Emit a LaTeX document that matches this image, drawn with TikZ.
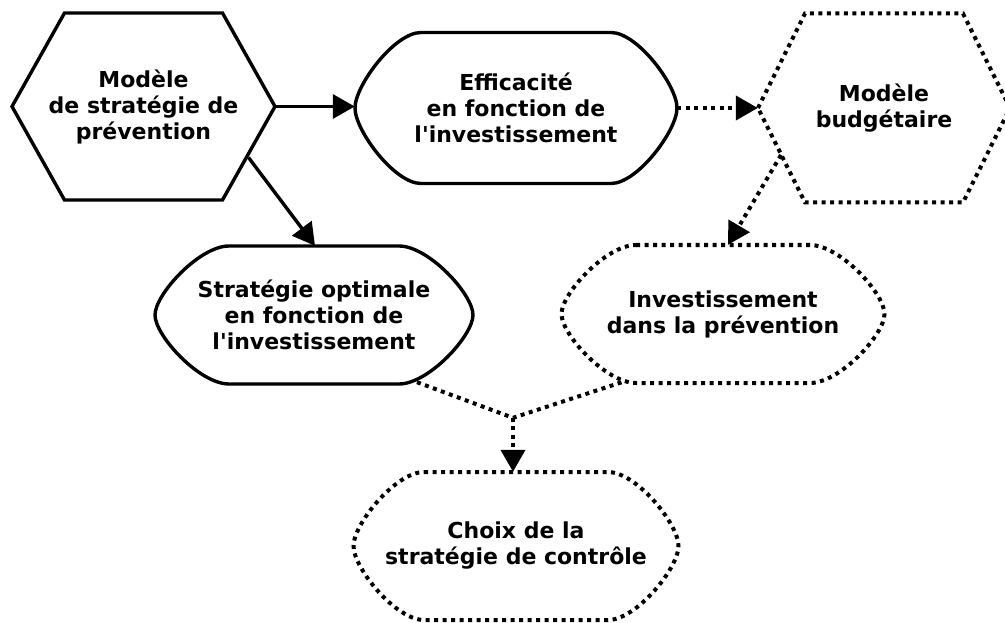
\documentclass[tikz,border=0pt]{standalone}
\usepackage{fontspec}
\setmainfont{DejaVu Sans}[Ligatures=TeXOff]
\usetikzlibrary{arrows.meta,calc}
% rounded hexagon outline: options, centre node, half width, half height, half top edge
\newcommand\rhexo[5]{\draw[#1,shift={(#2.center)}] (-#5,-#4) -- (#5,-#4)
  .. controls ({#5+0.4*(#3-#5)},-#4) and (#3,{-0.3*#4}) .. (#3,0)
  .. controls (#3,{0.3*#4}) and ({#5+0.4*(#3-#5)},#4) .. (#5,#4) -- (-#5,#4)
  .. controls ({-#5-0.4*(#3-#5)},#4) and (-#3,{0.3*#4}) .. (-#3,0)
  .. controls (-#3,{-0.3*#4}) and ({-#5-0.4*(#3-#5)},-#4) .. (-#5,-#4) -- cycle;}
% plain hexagon outline
\newcommand\hexo[5]{\draw[#1,shift={(#2.center)}] (-#3,0) -- (-#5,-#4) -- (#5,-#4) -- (#3,0) -- (#5,#4) -- (-#5,#4) -- cycle;}
\begin{document}
\begin{tikzpicture}[x=1pt,y=-1pt,
  lbl/.style={align=center,font=\fontsize{22}{26}\selectfont\bfseries,inner sep=0pt},
  solidline/.style={line width=3.4pt,line join=miter},
  dotline/.style={line width=4pt,dash pattern=on 4pt off 4.5pt},
  arr/.style={-{Triangle[length=22pt,width=24pt]}},
]
\useasboundingbox (0,0) rectangle (1005,623);

\node[lbl,minimum width=263pt,minimum height=187pt] (A) at (143.5,106.5) {Modèle\\de stratégie de\\prévention};
\node[lbl,minimum width=322pt,minimum height=151pt] (B) at (516,108) {Efficacité\\en fonction de\\l'investissement};
\node[lbl,minimum width=252pt,minimum height=189pt] (C) at (884,108) {Modèle\\budgétaire};
\node[lbl,minimum width=318pt,minimum height=138pt] (D) at (314,315) {Stratégie optimale\\en fonction de\\l'investissement};
\node[lbl,minimum width=323pt,minimum height=138pt] (E) at (723,314) {Investissement\\dans la prévention};
\node[lbl,minimum width=325pt,minimum height=148pt] (F) at (516,546) {Choix de la\\stratégie de contrôle};

\hexo{solidline}{A}{131.5}{93.5}{79}
\rhexo{solidline}{B}{161}{75.5}{95}
\hexo{dotline}{C}{126}{94.5}{79}
\rhexo{solidline}{D}{159}{69}{85}
\rhexo{dotline}{E}{161.5}{69}{87}
\rhexo{dotline}{F}{162.5}{74}{92}

\coordinate (a1) at ($(A.center)+(105,51)$);
\coordinate (c1) at ($(C.center)+(-103,47)$);
\coordinate (j) at ($(F.north)+(-3,-54)$);

\draw[solidline,arr] (A.east) -- (A.east -| B.west);
\draw[solidline,arr] (a1) -- ($(D.north)+(1,0)$);
\draw[dotline,arr] (B.east) -- (B.east -| C.west);
\draw[dotline,arr] (c1) -- ($(E.north)+(5,0)$);
\draw[dotline] ($(D.south)+(103,-2)$) -- (j) -- ($(E.south)+(-98,-2)$);
\draw[dotline,arr] (j) -- (j |- F.north);
\end{tikzpicture}
\end{document}
